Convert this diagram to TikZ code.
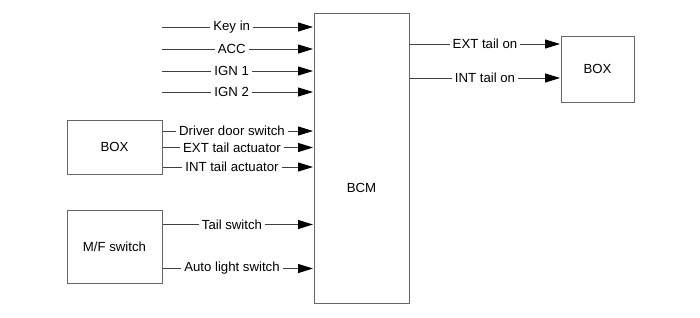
\documentclass[tikz,border=0pt]{standalone}
\usepackage{fontspec}
\setmainfont{Liberation Sans}
\usetikzlibrary{arrows.meta}
\begin{document}
\begin{tikzpicture}[x=1pt,y=-1pt,
  every node/.style={font=\fontsize{13.2}{15}\selectfont},
  blk/.style={draw=black!60, line width=1pt, inner sep=0pt},
  arr/.style={draw=black!75, line width=1pt, -{Triangle[length=15pt,width=9pt,black]}, shorten >=0.5pt},
  lab/.style={fill=white, inner xsep=3pt, inner ysep=1pt}]
\useasboundingbox (0,0) rectangle (700,317);
% blocks
\node[blk, minimum width=95pt, minimum height=290pt, label={[yshift=-30pt]center:BCM}] (bcm) at (361.5,158) {};
\node[blk, minimum width=95pt, minimum height=54pt] (lbox) at (114.5,147) {BOX};
\node[blk, minimum width=95pt, minimum height=73pt] (mf) at (114.5,246.5) {M/F switch};
\node[blk, minimum width=73pt, minimum height=66pt] (rbox) at (597.5,69) {BOX};
% free ends of the top inputs
\coordinate (k1) at (162,27);
\coordinate (k2) at (162,49);
\coordinate (k3) at (162,71);
\coordinate (k4) at (162,92);
\draw[arr] (k1) -- node[lab, pos=0.46] {Key in} (k1 -| bcm.west);
\draw[arr] (k2) -- node[lab, pos=0.46] {ACC} (k2 -| bcm.west);
\draw[arr] (k3) -- node[lab, pos=0.46] {IGN 1} (k3 -| bcm.west);
\draw[arr] (k4) -- node[lab, pos=0.46] {IGN 2} (k4 -| bcm.west);
% BOX outputs
\coordinate (b1) at ([yshift=16pt]lbox.east);
\coordinate (b2) at ([yshift=-0.5pt]lbox.east);
\coordinate (b3) at ([yshift=-20pt]lbox.east);
\draw[arr] (b1) -- node[lab, pos=0.46] {Driver door switch} (b1 -| bcm.west);
\draw[arr] (b2) -- node[lab, pos=0.46] {EXT tail actuator} (b2 -| bcm.west);
\draw[arr] (b3) -- node[lab, pos=0.46] {INT tail actuator} (b3 -| bcm.west);
% M/F switch outputs
\coordinate (m1) at ([yshift=22pt]mf.east);
\coordinate (m2) at ([yshift=-22pt]mf.east);
\draw[arr] (m1) -- node[lab, pos=0.46] {Tail switch} (m1 -| bcm.west);
\draw[arr] (m2) -- node[lab, pos=0.46] {Auto light switch} (m2 -| bcm.west);
% BCM outputs
\coordinate (r1) at ([yshift=25pt]rbox.west);
\coordinate (r2) at ([yshift=-9pt]rbox.west);
\draw[arr] (r1 -| bcm.east) -- node[lab, pos=0.5] {EXT tail on} (r1);
\draw[arr] (r2 -| bcm.east) -- node[lab, pos=0.5] {INT tail on} (r2);
\end{tikzpicture}
\end{document}
